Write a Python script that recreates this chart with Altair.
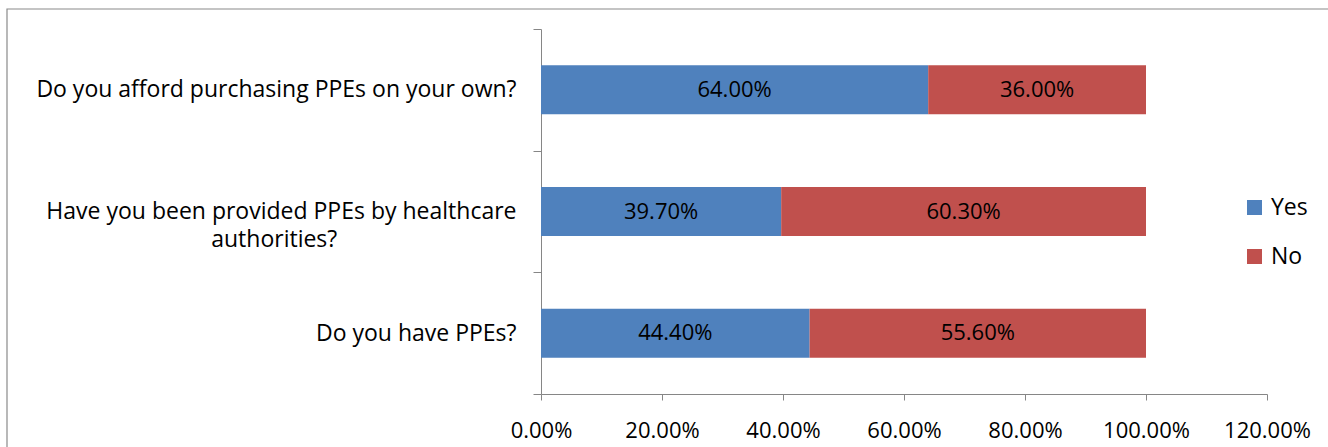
import altair as alt
import pandas as pd

questions = [
    "Do you afford purchasing PPEs on your own?",
    "Have you been provided PPEs by healthcare|authorities?",
    "Do you have PPEs?",
]
yes_pct = [64.00, 39.70, 44.40]
no_pct = [36.00, 60.30, 55.60]
answers = ["Yes", "No"]
colors = ["#4F81BD", "#C0504D"]
x_ticks = [0, 0.2, 0.4, 0.6, 0.8, 1.0, 1.2]

rows = []
for q, y, n in zip(questions, yes_pct, no_pct):
    rows.append({"question": q, "answer": "Yes", "order": 0, "value": y / 100})
    rows.append({"question": q, "answer": "No", "order": 1, "value": n / 100})
df = pd.DataFrame(rows)

FONT = "Open Sans"
FS = 23
pad = "\u00a0" * 30 + "\u200b"

label_expr = (
    "length(split(datum.value, '|')) > 1 ? "
    "[split(datum.value, '|')[0], split(datum.value, '|')[1] + '" + pad + "'] : datum.value"
)

base = alt.Chart(df).transform_stack(
    stack="value", groupby=["question"], as_=["start", "end"],
    sort=[alt.SortField("order", order="ascending")]
).transform_calculate(
    mid="(datum.start + datum.end) / 2"
)

y_enc = alt.Y(
    "question:N", sort=questions, title=None,
    scale=alt.Scale(paddingInner=0, paddingOuter=0),
    axis=alt.Axis(
        labelExpr=label_expr, labelFont=FONT, labelFontSize=FS, labelColor="#000000",
        labelPadding=17, tickSize=8, tickBand="extent", labelLimit=600,
        domainColor="#868686", tickColor="#868686", labelLineHeight=28,
    ),
)

bars = base.mark_bar(size=49).encode(
    y=y_enc,
    x=alt.X("start:Q", title=None,
            scale=alt.Scale(domain=[0, 1.2], nice=False),
            axis=alt.Axis(values=x_ticks, format=".2%", labelFont=FONT, labelFontSize=FS - 1,
                          labelColor="#000000", tickSize=6, labelPadding=20, grid=False,
                          labelFlush=False, labelOverlap=False,
                          domainColor="#868686", tickColor="#868686")),
    x2="end:Q",
    color=alt.Color("answer:N", sort=answers, title=None,
                    scale=alt.Scale(domain=answers, range=colors),
                    legend=alt.Legend(orient="none", legendX=702, legendY=167,
                                      symbolType="square", symbolSize=225,
                                      symbolStrokeWidth=0, labelFont=FONT, labelFontSize=FS,
                                      labelColor="#000000", rowPadding=25, labelOffset=5,
                                      padding=0)),
)

texts = base.mark_text(font=FONT, fontSize=FS - 1, color="#000000").encode(
    y=alt.Y("question:N", sort=questions),
    x=alt.X("mid:Q"),
    text=alt.Text("value:Q", format=".2%"),
)

frame = alt.Chart(pd.DataFrame({"a": [0]})).mark_rect(
    fill=None, stroke="#8a8a8a", strokeWidth=1.2
).encode(
    x=alt.value(-534), x2=alt.value(900), y=alt.value(-20), y2=alt.value(600)
)

chart = alt.layer(frame, bars, texts).properties(
    width=726, height=365,
    autosize=alt.AutoSizeParams(type="none"),
    padding={"left": 541, "top": 29, "right": 61, "bottom": 53},
).configure(background="white").configure_view(stroke=None)

chart.save("out.html", embed_options={"renderer": "svg", "actions": False})
